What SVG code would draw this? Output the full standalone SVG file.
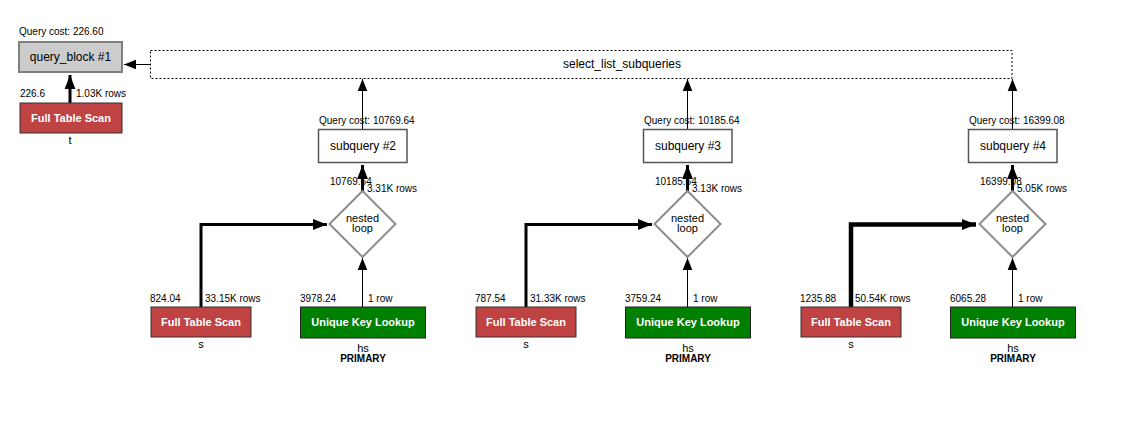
<svg xmlns="http://www.w3.org/2000/svg" width="1135" height="422" viewBox="0 0 1135 422">
<style>
  text { font-family: "Liberation Sans", Arial, sans-serif; fill: #000; }
  .lbl { font-size: 10px; }
  .ttl { font-size: 12px; text-anchor: middle; }
  .op { font-size: 11px; font-weight: bold; fill: #fff; text-anchor: middle; }
  .sub { font-size: 11px; text-anchor: middle; }
  .key { font-size: 10px; font-weight: bold; text-anchor: middle; }
  .nl { font-size: 11px; text-anchor: middle; }
  .qb { fill: #cccccc; stroke: #7f7f7f; stroke-width: 2; }
  .sq { fill: #fff; stroke: #555; stroke-width: 1.5; }
  .fts { fill: #c04343; stroke: #333; stroke-width: 1; }
  .ukl { fill: #008000; stroke: #222; stroke-width: 1; }
  .dia { fill: #fff; stroke: #8c8c8c; stroke-width: 2; }
  .thin { stroke: #000; stroke-width: 1; fill: none; }
  .thick { stroke: #000; stroke-width: 3; fill: none; }
  .thicker { stroke: #000; stroke-width: 4.5; fill: none; }
</style>
<defs>
  <marker id="ah" markerUnits="userSpaceOnUse" markerWidth="12" markerHeight="12" viewBox="0 0 10 8" refX="10" refY="4" orient="auto">
    <path d="M0,0 L10,4 L0,8 z" fill="#000"/>
  </marker>
  <marker id="ahb" markerUnits="userSpaceOnUse" markerWidth="14" markerHeight="14" viewBox="0 0 13 10" refX="13" refY="5" orient="auto">
    <path d="M0,0 L13,5 L0,10 z" fill="#000"/>
  </marker>
</defs>

<g id="connectors">
  <!-- select_list -> query_block -->
  <line class="thin" x1="150" y1="64.5" x2="124" y2="64.5" marker-end="url(#ah)"/>
  <!-- t -> query_block -->
  <line class="thick" x1="70" y1="103" x2="70" y2="75" marker-end="url(#ahb)"/>
  <!-- group 2 -->
  <line class="thin" x1="362.5" y1="129" x2="362.5" y2="79" marker-end="url(#ah)"/>
  <line class="thick" x1="362.5" y1="191" x2="362.5" y2="165" marker-end="url(#ahb)"/>
  <line class="thin" x1="362.5" y1="307" x2="362.5" y2="258" marker-end="url(#ah)"/>
  <polyline class="thick" points="201,307 201,224.5 327,224.5" marker-end="url(#ahb)"/>
  <!-- group 3 -->
  <line class="thin" x1="687.5" y1="129" x2="687.5" y2="79" marker-end="url(#ah)"/>
  <line class="thick" x1="687.5" y1="191" x2="687.5" y2="165" marker-end="url(#ahb)"/>
  <line class="thin" x1="687.5" y1="307" x2="687.5" y2="258" marker-end="url(#ah)"/>
  <polyline class="thick" points="526,307 526,224.5 652,224.5" marker-end="url(#ahb)"/>
  <!-- group 4 -->
  <line class="thin" x1="1012.5" y1="129" x2="1012.5" y2="79" marker-end="url(#ah)"/>
  <line class="thick" x1="1012.5" y1="191" x2="1012.5" y2="165" marker-end="url(#ahb)"/>
  <line class="thin" x1="1012.5" y1="307" x2="1012.5" y2="258" marker-end="url(#ah)"/>
  <polyline class="thicker" points="851,307 851,224.5 976,224.5" marker-end="url(#ahb)"/>
</g>

<g id="edge-labels">
  <text class="lbl" x="20" y="97">226.6</text>
  <text class="lbl" x="76" y="97">1.03K rows</text>

  <text class="lbl" x="330" y="185">10769.64</text>
  <text class="lbl" x="367" y="192">3.31K rows</text>
  <text class="lbl" x="150" y="302">824.04</text>
  <text class="lbl" x="205" y="302">33.15K rows</text>
  <text class="lbl" x="300" y="302">3978.24</text>
  <text class="lbl" x="368" y="302">1 row</text>

  <text class="lbl" x="655" y="185">10185.64</text>
  <text class="lbl" x="692" y="192">3.13K rows</text>
  <text class="lbl" x="475" y="302">787.54</text>
  <text class="lbl" x="530" y="302">31.33K rows</text>
  <text class="lbl" x="625" y="302">3759.24</text>
  <text class="lbl" x="693" y="302">1 row</text>

  <text class="lbl" x="980" y="185">16399.08</text>
  <text class="lbl" x="1017" y="192">5.05K rows</text>
  <text class="lbl" x="800" y="302">1235.88</text>
  <text class="lbl" x="855" y="302">50.54K rows</text>
  <text class="lbl" x="950" y="302">6065.28</text>
  <text class="lbl" x="1018" y="302">1 row</text>
</g>

<g id="query_block_1">
  <text class="lbl" x="19" y="35">Query cost: 226.60</text>
  <rect class="qb" x="19" y="42" width="103" height="30"/>
  <text class="ttl" x="70.5" y="61">query_block #1</text>
</g>

<g id="fts_t">
  <rect class="fts" x="20" y="103" width="102" height="30"/>
  <text class="op" x="71" y="122">Full Table Scan</text>
  <text class="sub" x="70" y="144">t</text>
</g>

<g id="select_list_subqueries">
  <rect x="150.5" y="50.5" width="861.5" height="28" fill="#fff" stroke="#000" stroke-width="1" stroke-dasharray="2,2"/>
  <text class="ttl" x="622" y="68">select_list_subqueries</text>
</g>

<g id="subquery_2">
  <text class="lbl" x="319" y="124">Query cost: 10769.64</text>
  <rect class="sq" x="318.5" y="129.5" width="88.5" height="33"/>
  <text class="ttl" x="363" y="150">subquery #2</text>
</g>
<g id="nested_loop_2">
  <polygon class="dia" points="362.5,191 395.5,224 362.5,257 329.5,224"/>
  <text class="nl" x="362.5" y="222">nested</text>
  <text class="nl" x="362.5" y="232">loop</text>
</g>
<g id="fts_s_2">
  <rect class="fts" x="151" y="307" width="100" height="30"/>
  <text class="op" x="201" y="326">Full Table Scan</text>
  <text class="sub" x="201" y="348">s</text>
</g>
<g id="ukl_hs_2">
  <rect class="ukl" x="300.5" y="307" width="125" height="31"/>
  <text class="op" x="363" y="326">Unique Key Lookup</text>
  <text class="sub" x="363" y="352">hs</text>
  <text class="key" x="363" y="362">PRIMARY</text>
</g>

<g id="subquery_3">
  <text class="lbl" x="644" y="124">Query cost: 10185.64</text>
  <rect class="sq" x="643.5" y="129.5" width="88.5" height="33"/>
  <text class="ttl" x="688" y="150">subquery #3</text>
</g>
<g id="nested_loop_3">
  <polygon class="dia" points="687.5,191 720.5,224 687.5,257 654.5,224"/>
  <text class="nl" x="687.5" y="222">nested</text>
  <text class="nl" x="687.5" y="232">loop</text>
</g>
<g id="fts_s_3">
  <rect class="fts" x="476" y="307" width="100" height="30"/>
  <text class="op" x="526" y="326">Full Table Scan</text>
  <text class="sub" x="526" y="348">s</text>
</g>
<g id="ukl_hs_3">
  <rect class="ukl" x="625.5" y="307" width="125" height="31"/>
  <text class="op" x="688" y="326">Unique Key Lookup</text>
  <text class="sub" x="688" y="352">hs</text>
  <text class="key" x="688" y="362">PRIMARY</text>
</g>

<g id="subquery_4">
  <text class="lbl" x="969" y="124">Query cost: 16399.08</text>
  <rect class="sq" x="968.5" y="129.5" width="88.5" height="33"/>
  <text class="ttl" x="1013" y="150">subquery #4</text>
</g>
<g id="nested_loop_4">
  <polygon class="dia" points="1012.5,191 1045.5,224 1012.5,257 979.5,224"/>
  <text class="nl" x="1012.5" y="222">nested</text>
  <text class="nl" x="1012.5" y="232">loop</text>
</g>
<g id="fts_s_4">
  <rect class="fts" x="801" y="307" width="100" height="30"/>
  <text class="op" x="851" y="326">Full Table Scan</text>
  <text class="sub" x="851" y="348">s</text>
</g>
<g id="ukl_hs_4">
  <rect class="ukl" x="950.5" y="307" width="125" height="31"/>
  <text class="op" x="1013" y="326">Unique Key Lookup</text>
  <text class="sub" x="1013" y="352">hs</text>
  <text class="key" x="1013" y="362">PRIMARY</text>
</g>
</svg>
